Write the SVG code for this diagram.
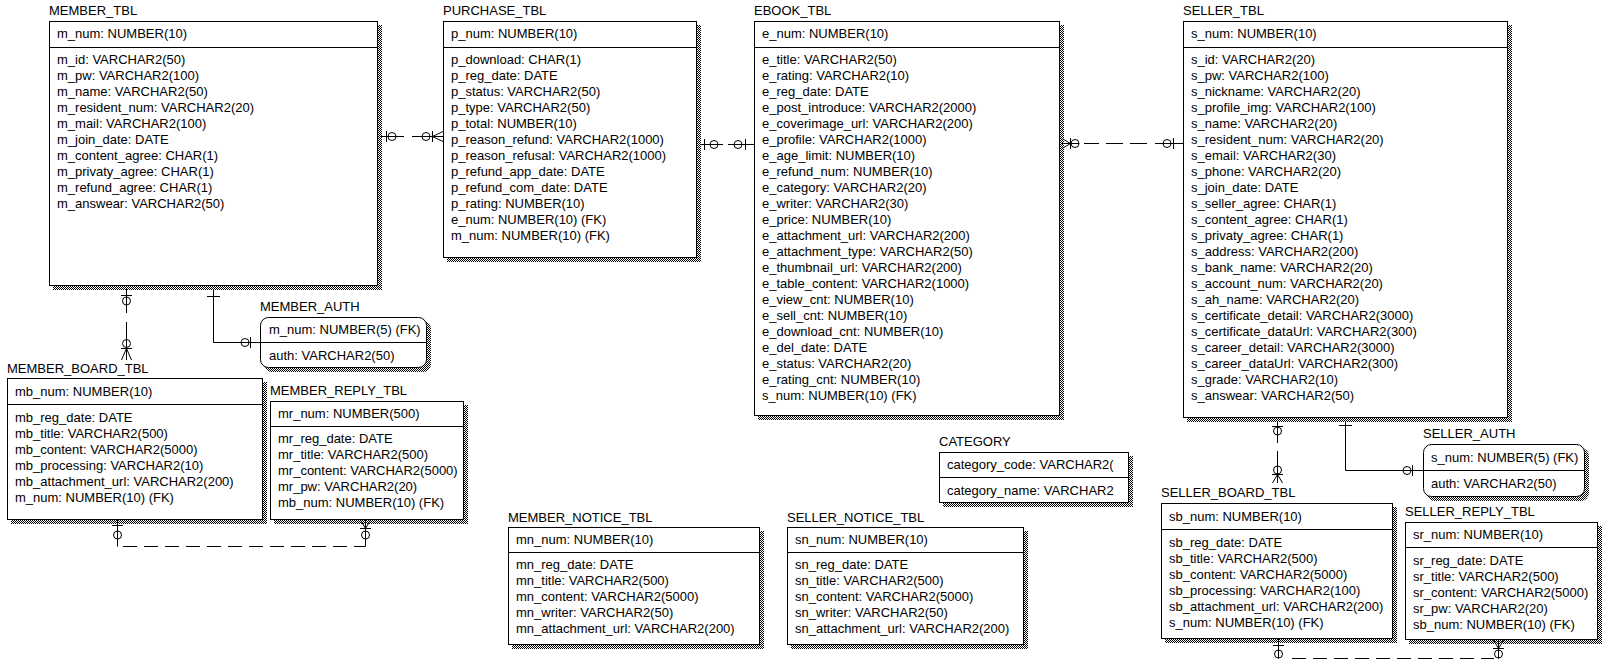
<svg xmlns="http://www.w3.org/2000/svg" width="1607" height="668" viewBox="0 0 1607 668">
<style>
text{font-family:"Liberation Sans",Arial,sans-serif;font-size:13px;fill:#000}
.box{fill:#fff;stroke:#000;stroke-width:1}
.sh{fill:url(#dots)}
.dv{stroke:#000;stroke-width:1;fill:none}
#connectors path,#connectors circle{stroke:#000;stroke-width:1;fill:none}
</style>
<defs>
<pattern id="dots" width="2" height="2" patternUnits="userSpaceOnUse"><rect width="2" height="2" fill="#fff"/><rect width="1" height="1" fill="#000"/><rect x="1" y="1" width="1" height="1" fill="#000"/></pattern>
<clipPath id="clipMR"><rect x="270" y="400" width="188" height="120"/></clipPath>
<clipPath id="clipCat"><rect x="939" y="452" width="183" height="51"/></clipPath>
</defs>
<rect width="1607" height="668" fill="#fff"/>

<g id="member_tbl">
<text x="49" y="15">MEMBER_TBL</text>
<rect class="sh" x="53" y="25" width="329" height="265"/>
<rect class="box" x="49.5" y="21.5" width="328" height="264"/>
<path class="dv" d="M49,47.5H378"/>
<text x="57" y="38">m_num: NUMBER(10)</text>
<text x="57" y="64">m_id: VARCHAR2(50)</text>
<text x="57" y="80">m_pw: VARCHAR2(100)</text>
<text x="57" y="96">m_name: VARCHAR2(50)</text>
<text x="57" y="112">m_resident_num: VARCHAR2(20)</text>
<text x="57" y="128">m_mail: VARCHAR2(100)</text>
<text x="57" y="144">m_join_date: DATE</text>
<text x="57" y="160">m_content_agree: CHAR(1)</text>
<text x="57" y="176">m_privaty_agree: CHAR(1)</text>
<text x="57" y="192">m_refund_agree: CHAR(1)</text>
<text x="57" y="208">m_answear: VARCHAR2(50)</text>
</g>

<g id="purchase_tbl">
<text x="443" y="15">PURCHASE_TBL</text>
<rect class="sh" x="447" y="25" width="254" height="237"/>
<rect class="box" x="443.5" y="21.5" width="253" height="236"/>
<path class="dv" d="M443,47.5H697"/>
<text x="451" y="38">p_num: NUMBER(10)</text>
<text x="451" y="64">p_download: CHAR(1)</text>
<text x="451" y="80">p_reg_date: DATE</text>
<text x="451" y="96">p_status: VARCHAR2(50)</text>
<text x="451" y="112">p_type: VARCHAR2(50)</text>
<text x="451" y="128">p_total: NUMBER(10)</text>
<text x="451" y="144">p_reason_refund: VARCHAR2(1000)</text>
<text x="451" y="160">p_reason_refusal: VARCHAR2(1000)</text>
<text x="451" y="176">p_refund_app_date: DATE</text>
<text x="451" y="192">p_refund_com_date: DATE</text>
<text x="451" y="208">p_rating: NUMBER(10)</text>
<text x="451" y="224">e_num: NUMBER(10) (FK)</text>
<text x="451" y="240">m_num: NUMBER(10) (FK)</text>
</g>

<g id="ebook_tbl">
<text x="754" y="15">EBOOK_TBL</text>
<rect class="sh" x="758" y="25" width="306" height="395"/>
<rect class="box" x="754.5" y="21.5" width="305" height="394"/>
<path class="dv" d="M754,47.5H1060"/>
<text x="762" y="38">e_num: NUMBER(10)</text>
<text x="762" y="64">e_title: VARCHAR2(50)</text>
<text x="762" y="80">e_rating: VARCHAR2(10)</text>
<text x="762" y="96">e_reg_date: DATE</text>
<text x="762" y="112">e_post_introduce: VARCHAR2(2000)</text>
<text x="762" y="128">e_coverimage_url: VARCHAR2(200)</text>
<text x="762" y="144">e_profile: VARCHAR2(1000)</text>
<text x="762" y="160">e_age_limit: NUMBER(10)</text>
<text x="762" y="176">e_refund_num: NUMBER(10)</text>
<text x="762" y="192">e_category: VARCHAR2(20)</text>
<text x="762" y="208">e_writer: VARCHAR2(30)</text>
<text x="762" y="224">e_price: NUMBER(10)</text>
<text x="762" y="240">e_attachment_url: VARCHAR2(200)</text>
<text x="762" y="256">e_attachment_type: VARCHAR2(50)</text>
<text x="762" y="272">e_thumbnail_url: VARCHAR2(200)</text>
<text x="762" y="288">e_table_content: VARCHAR2(1000)</text>
<text x="762" y="304">e_view_cnt: NUMBER(10)</text>
<text x="762" y="320">e_sell_cnt: NUMBER(10)</text>
<text x="762" y="336">e_download_cnt: NUMBER(10)</text>
<text x="762" y="352">e_del_date: DATE</text>
<text x="762" y="368">e_status: VARCHAR2(20)</text>
<text x="762" y="384">e_rating_cnt: NUMBER(10)</text>
<text x="762" y="400">s_num: NUMBER(10) (FK)</text>
</g>

<g id="seller_tbl">
<text x="1183" y="15">SELLER_TBL</text>
<rect class="sh" x="1187" y="25" width="325" height="397"/>
<rect class="box" x="1183.5" y="21.5" width="324" height="396"/>
<path class="dv" d="M1183,47.5H1508"/>
<text x="1191" y="38">s_num: NUMBER(10)</text>
<text x="1191" y="64">s_id: VARCHAR2(20)</text>
<text x="1191" y="80">s_pw: VARCHAR2(100)</text>
<text x="1191" y="96">s_nickname: VARCHAR2(20)</text>
<text x="1191" y="112">s_profile_img: VARCHAR2(100)</text>
<text x="1191" y="128">s_name: VARCHAR2(20)</text>
<text x="1191" y="144">s_resident_num: VARCHAR2(20)</text>
<text x="1191" y="160">s_email: VARCHAR2(30)</text>
<text x="1191" y="176">s_phone: VARCHAR2(20)</text>
<text x="1191" y="192">s_join_date: DATE</text>
<text x="1191" y="208">s_seller_agree: CHAR(1)</text>
<text x="1191" y="224">s_content_agree: CHAR(1)</text>
<text x="1191" y="240">s_privaty_agree: CHAR(1)</text>
<text x="1191" y="256">s_address: VARCHAR2(200)</text>
<text x="1191" y="272">s_bank_name: VARCHAR2(20)</text>
<text x="1191" y="288">s_account_num: VARCHAR2(20)</text>
<text x="1191" y="304">s_ah_name: VARCHAR2(20)</text>
<text x="1191" y="320">s_certificate_detail: VARCHAR2(3000)</text>
<text x="1191" y="336">s_certificate_dataUrl: VARCHAR2(300)</text>
<text x="1191" y="352">s_career_detail: VARCHAR2(3000)</text>
<text x="1191" y="368">s_career_dataUrl: VARCHAR2(300)</text>
<text x="1191" y="384">s_grade: VARCHAR2(10)</text>
<text x="1191" y="400">s_answear: VARCHAR2(50)</text>
</g>

<g id="member_auth">
<text x="260" y="311">MEMBER_AUTH</text>
<rect class="sh" x="264" y="321" width="167" height="51" rx="8"/>
<rect class="box" x="260.5" y="317.5" width="166" height="50" rx="8"/>
<path class="dv" d="M260,342.5H427"/>
<text x="269" y="334">m_num: NUMBER(5) (FK)</text>
<text x="269" y="360">auth: VARCHAR2(50)</text>
</g>

<g id="member_board_tbl">
<text x="7" y="373">MEMBER_BOARD_TBL</text>
<rect class="sh" x="11" y="382" width="256" height="142"/>
<rect class="box" x="7.5" y="378.5" width="255" height="141"/>
<path class="dv" d="M7,404.5H263"/>
<text x="15" y="396">mb_num: NUMBER(10)</text>
<text x="15" y="422">mb_reg_date: DATE</text>
<text x="15" y="438">mb_title: VARCHAR2(500)</text>
<text x="15" y="454">mb_content: VARCHAR2(5000)</text>
<text x="15" y="470">mb_processing: VARCHAR2(10)</text>
<text x="15" y="486">mb_attachment_url: VARCHAR2(200)</text>
<text x="15" y="502">m_num: NUMBER(10) (FK)</text>
</g>

<g id="member_reply_tbl">
<text x="270" y="395">MEMBER_REPLY_TBL</text>
<rect class="sh" x="274" y="405" width="194" height="119"/>
<rect class="box" x="270.5" y="401.5" width="193" height="118"/>
<path class="dv" d="M270,426.5H464"/>
<g clip-path="url(#clipMR)">
<text x="278" y="418">mr_num: NUMBER(500)</text>
<text x="278" y="443">mr_reg_date: DATE</text>
<text x="278" y="459">mr_title: VARCHAR2(500)</text>
<text x="278" y="475">mr_content: VARCHAR2(5000)</text>
<text x="278" y="491">mr_pw: VARCHAR2(20)</text>
<text x="278" y="507">mb_num: NUMBER(10) (FK)</text>
</g>
</g>

<g id="category">
<text x="939" y="446">CATEGORY</text>
<rect class="sh" x="943" y="456" width="190" height="51"/>
<rect class="box" x="939.5" y="452.5" width="189" height="50"/>
<path class="dv" d="M939,477.5H1129"/>
<g clip-path="url(#clipCat)">
<text x="947" y="469">category_code: VARCHAR2(</text>
<text x="947" y="495">category_name: VARCHAR2</text>
</g>
</g>

<g id="member_notice_tbl">
<text x="508" y="522">MEMBER_NOTICE_TBL</text>
<rect class="sh" x="512" y="531" width="252" height="118"/>
<rect class="box" x="508.5" y="527.5" width="251" height="117"/>
<path class="dv" d="M508,552.5H760"/>
<text x="516" y="544">mn_num: NUMBER(10)</text>
<text x="516" y="569">mn_reg_date: DATE</text>
<text x="516" y="585">mn_title: VARCHAR2(500)</text>
<text x="516" y="601">mn_content: VARCHAR2(5000)</text>
<text x="516" y="617">mn_writer: VARCHAR2(50)</text>
<text x="516" y="633">mn_attachment_url: VARCHAR2(200)</text>
</g>

<g id="seller_notice_tbl">
<text x="787" y="522">SELLER_NOTICE_TBL</text>
<rect class="sh" x="791" y="531" width="237" height="118"/>
<rect class="box" x="787.5" y="527.5" width="236" height="117"/>
<path class="dv" d="M787,552.5H1024"/>
<text x="795" y="544">sn_num: NUMBER(10)</text>
<text x="795" y="569">sn_reg_date: DATE</text>
<text x="795" y="585">sn_title: VARCHAR2(500)</text>
<text x="795" y="601">sn_content: VARCHAR2(5000)</text>
<text x="795" y="617">sn_writer: VARCHAR2(50)</text>
<text x="795" y="633">sn_attachment_url: VARCHAR2(200)</text>
</g>

<g id="seller_auth">
<text x="1423" y="438">SELLER_AUTH</text>
<rect class="sh" x="1427" y="448" width="162" height="53" rx="8"/>
<rect class="box" x="1423.5" y="444.5" width="161" height="52" rx="8"/>
<path class="dv" d="M1423,470.5H1585"/>
<text x="1431" y="462">s_num: NUMBER(5) (FK)</text>
<text x="1431" y="488">auth: VARCHAR2(50)</text>
</g>

<g id="seller_board_tbl">
<text x="1161" y="497">SELLER_BOARD_TBL</text>
<rect class="sh" x="1165" y="507" width="232" height="136"/>
<rect class="box" x="1161.5" y="503.5" width="231" height="135"/>
<path class="dv" d="M1161,529.5H1393"/>
<text x="1169" y="521">sb_num: NUMBER(10)</text>
<text x="1169" y="547">sb_reg_date: DATE</text>
<text x="1169" y="563">sb_title: VARCHAR2(500)</text>
<text x="1169" y="579">sb_content: VARCHAR2(5000)</text>
<text x="1169" y="595">sb_processing: VARCHAR2(100)</text>
<text x="1169" y="611">sb_attachment_url: VARCHAR2(200)</text>
<text x="1169" y="627">s_num: NUMBER(10) (FK)</text>
</g>

<g id="seller_reply_tbl">
<text x="1405" y="516">SELLER_REPLY_TBL</text>
<rect class="sh" x="1409" y="526" width="193" height="118"/>
<rect class="box" x="1405.5" y="522.5" width="192" height="117"/>
<path class="dv" d="M1405,547.5H1598"/>
<text x="1413" y="539">sr_num: NUMBER(10)</text>
<text x="1413" y="565">sr_reg_date: DATE</text>
<text x="1413" y="581">sr_title: VARCHAR2(500)</text>
<text x="1413" y="597">sr_content: VARCHAR2(5000)</text>
<text x="1413" y="613">sr_pw: VARCHAR2(20)</text>
<text x="1413" y="629">sb_num: NUMBER(10) (FK)</text>
</g>

<g id="connectors">
<!-- MEMBER_TBL to PURCHASE_TBL -->
<path d="M381,136.5H404M412,136.5H443M386.5,131V142M432.5,131V142M443,131.5L432.5,136.5L443,141.5"/>
<circle cx="392" cy="136.5" r="4"/>
<circle cx="426" cy="136.5" r="4"/>
<!-- PURCHASE_TBL to EBOOK_TBL -->
<path d="M700,144.5H723M728,144.5H754M704.5,139V150M745.5,139V150"/>
<circle cx="714" cy="144.5" r="4"/>
<circle cx="738" cy="144.5" r="4"/>
<!-- EBOOK_TBL to SELLER_TBL -->
<path d="M1062,143.5H1079M1084,143.5H1099M1106,143.5H1123M1130,143.5H1147M1155,143.5H1183M1062,138.5L1070.5,143.5L1062,148.5M1070.5,138V149M1173.5,138V149"/>
<circle cx="1075" cy="143.5" r="4"/>
<circle cx="1167" cy="143.5" r="4"/>
<!-- MEMBER_TBL to MEMBER_BOARD_TBL -->
<path d="M126.5,289V313M126.5,322V360M121,295.5H132M121,348.5H132M121.5,360L126.5,348.5L131.5,360"/>
<circle cx="126.5" cy="301" r="4"/>
<circle cx="126.5" cy="343.5" r="4"/>
<!-- MEMBER_TBL to MEMBER_AUTH -->
<path d="M213.5,289V342.5H260M207,296.5H220M250.5,337V348"/>
<circle cx="245" cy="342.5" r="4"/>
<!-- SELLER_TBL to SELLER_BOARD_TBL -->
<path d="M1277.5,421V443M1277.5,451V483M1272,426.5H1283M1272,474.5H1283M1272.5,483L1277.5,474.5L1282.5,483"/>
<circle cx="1277.5" cy="431" r="4"/>
<circle cx="1277.5" cy="470" r="4"/>
<!-- SELLER_TBL to SELLER_AUTH -->
<path d="M1345.5,421V470.5H1423M1339,425.5H1352M1412.5,465V476"/>
<circle cx="1407" cy="470.5" r="4"/>
<!-- MEMBER_BOARD_TBL to MEMBER_REPLY_TBL -->
<path d="M117.5,520V546.5M112,525.5H123"/>
<circle cx="117.5" cy="535" r="4"/>
<path d="M123,546.5H137M144,546.5H158M165,546.5H179M186,546.5H200M207,546.5H221M228,546.5H242M249,546.5H263M270,546.5H284M291,546.5H305M312,546.5H326M333,546.5H347M354,546.5H365.5V520"/>
<path d="M360.5,520L365.5,528.5L370.5,520M360,528.5H371"/>
<circle cx="365.5" cy="535" r="4"/>
<!-- SELLER_BOARD_TBL to SELLER_REPLY_TBL -->
<path d="M1278.5,639V658.5M1273,645.5H1284"/>
<circle cx="1278.5" cy="654" r="4"/>
<path d="M1292,658.5H1306M1313,658.5H1327M1334,658.5H1348M1355,658.5H1369M1376,658.5H1390M1397,658.5H1411M1418,658.5H1432M1439,658.5H1453M1460,658.5H1474M1481,658.5H1494M1498.5,658.5V640"/>
<path d="M1493.5,640L1498.5,648.5L1503.5,640M1493,648.5H1504"/>
<circle cx="1498.5" cy="654" r="4"/>
</g>
</svg>
